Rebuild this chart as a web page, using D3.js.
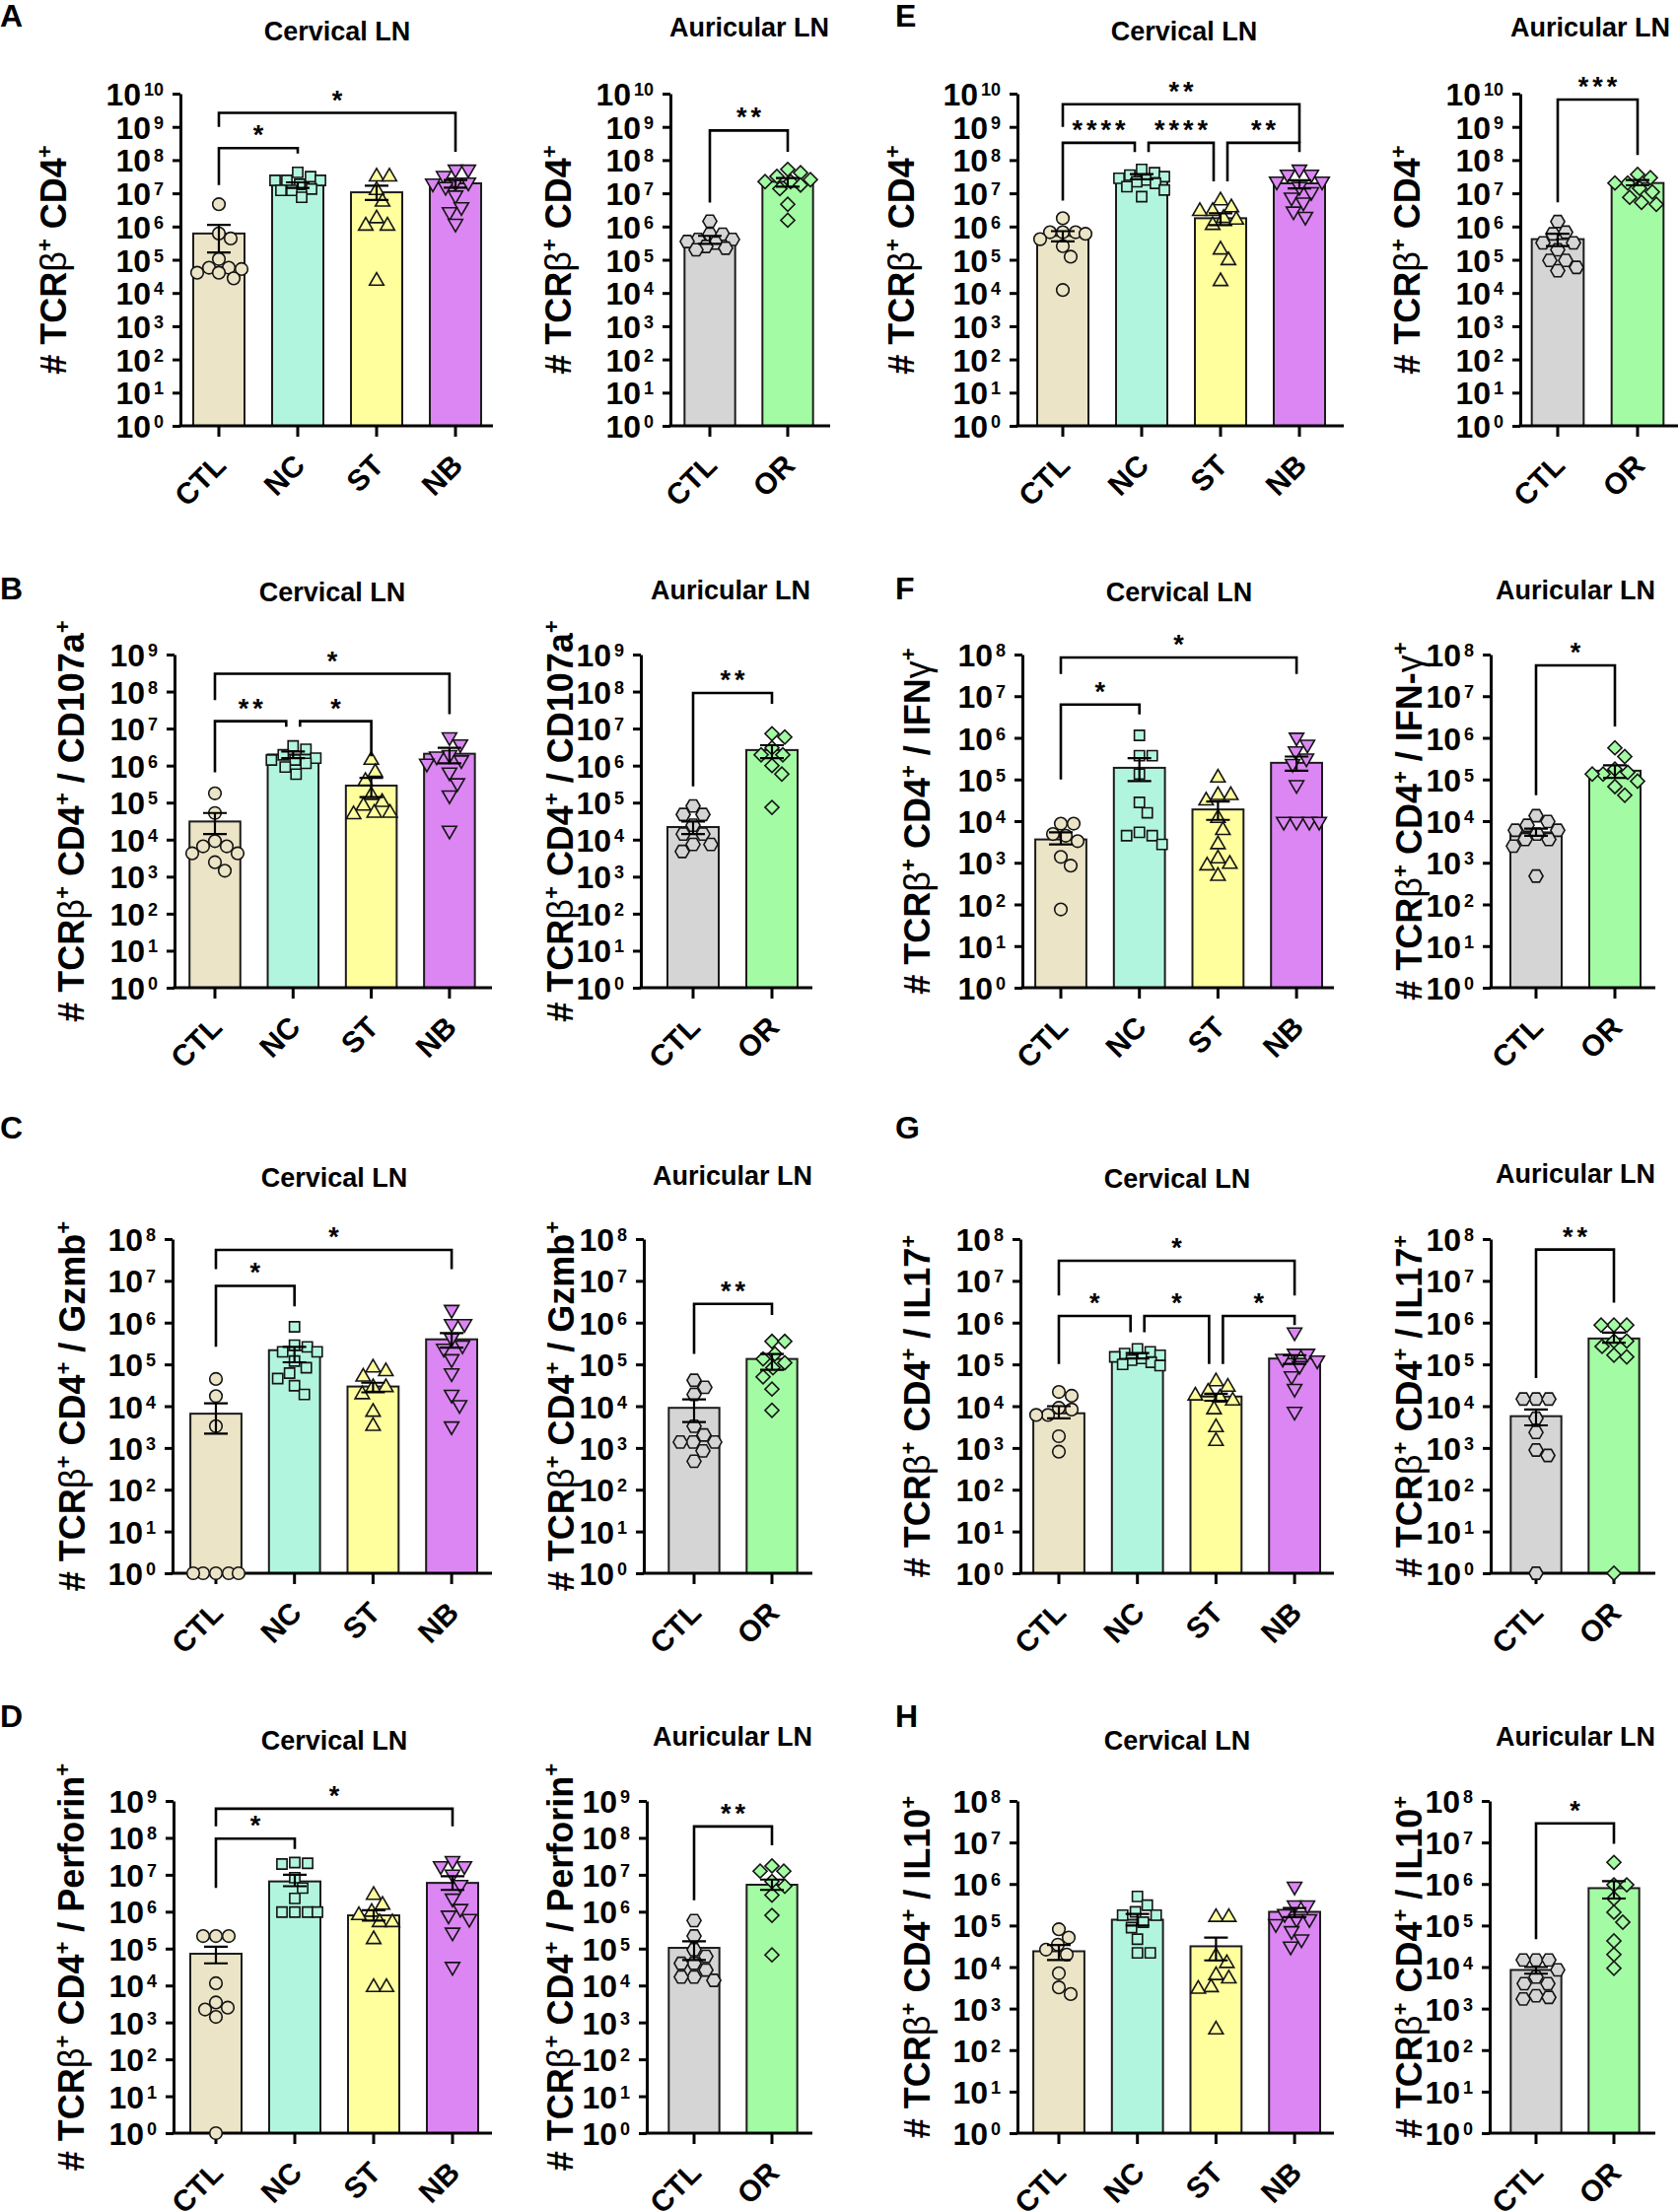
<!DOCTYPE html>
<html>
<head>
<meta charset="utf-8">
<script src="https://cdn.jsdelivr.net/npm/d3@7"></script>
<style>
  body { margin: 0; background: #fff; }
  svg { display: block; }
</style>
</head>
<body>
<svg id="fig" width="1702" height="2244"></svg>
<script>
// groups and tick exponents
const groupsCerv = ["CTL", "NC", "ST", "NB"];
const groupsAur = ["CTL", "OR"];
const ticksE10 = [0, 1, 2, 3, 4, 5, 6, 7, 8, 9, 10];
const ticksE9 = [0, 1, 2, 3, 4, 5, 6, 7, 8, 9];
const ticksE8 = [0, 1, 2, 3, 4, 5, 6, 7, 8];

// all values are log10(cell count)
// points per group, bar mean, error bar [low, high]
// brackets: [groupA, groupB, level, legA end, legB end, label]

// A  TCRb+ CD4+
const A_cerv_pts = [
  [6.67, 5.79, 5.64, 5.02, 4.76, 4.76, 4.72, 4.61, 4.61, 4.44],
  [7.63, 7.5, 7.39, 7.39, 7.39, 7.27, 7.13, 7.09, 7.09, 6.88],
  [7.5, 7.5, 7.09, 6.74, 6.24, 6.02, 6.02, 4.36],
  [7.72, 7.72, 7.53, 7.33, 7.33, 7.3, 7.2, 6.94, 6.59, 6.44, 6.09]
];
const A_cerv_mean = [5.79, 7.25, 7.03, 7.3];
const A_cerv_err = [[5.22, 6.05], [7.16, 7.33], [6.8, 7.23], [7.17, 7.4]];
const A_cerv_br = [[0, 1, 8.36, 7.25, 8.2, "*"], [0, 3, 9.42, 9.0, 8.25, "*"]];

const A_aur_pts = [
  [6.16, 5.77, 5.77, 5.61, 5.61, 5.55, 5.5, 5.4, 5.35, 5.3],
  [7.72, 7.62, 7.51, 7.41, 7.35, 7.35, 7.25, 7.14, 6.67, 6.19]
];
const A_aur_mean = [5.61, 7.35];
const A_aur_err = [[5.48, 5.72], [7.2, 7.46]];
const A_aur_br = [[0, 1, 8.89, 6.72, 8.25, "**"]];

// B  CD107a
const B_cerv_pts = [
  [5.25, 4.72, 3.96, 3.82, 3.82, 3.63, 3.63, 3.39, 3.16],
  [6.53, 6.44, 6.29, 6.2, 6.15, 6.15, 6.06, 5.96, 5.77],
  [6.15, 5.82, 5.58, 5.2, 5.01, 4.91, 4.72, 4.72, 4.68],
  [6.77, 6.58, 6.29, 6.25, 6.15, 6.06, 5.82, 5.53, 5.2, 4.25]
];
const B_cerv_mean = [4.49, 6.3, 5.46, 6.32];
const B_cerv_err = [[4.15, 4.72], [6.2, 6.38], [5.15, 5.67], [6.06, 6.48]];
const B_cerv_br = [[0, 3, 8.48, 7.77, 7.39, "*"], [0, 1, 7.2, 5.82, 7.05, "**"], [1, 2, 7.2, 7.05, 6.25, "*"]];

const B_aur_pts = [
  [4.91, 4.68, 4.68, 4.39, 4.15, 4.15, 3.87, 3.87, 3.68],
  [6.86, 6.77, 6.48, 6.29, 6.29, 6.0, 5.77, 4.87]
];
const B_aur_mean = [4.34, 6.42];
const B_aur_err = [[4.15, 4.49], [6.2, 6.55]];
const B_aur_br = [[0, 1, 7.96, 5.44, 7.67, "**"]];

// C  Gzmb
const C_cerv_pts = [
  [4.65, 4.24, 3.52, 0, 0, 0, 0, 0],
  [5.9, 5.46, 5.42, 5.3, 5.3, 5.08, 4.92, 4.79, 4.66, 4.49, 4.28],
  [4.92, 4.83, 4.7, 4.45, 4.45, 4.28, 3.86, 3.52],
  [6.31, 5.97, 5.97, 5.63, 5.46, 5.38, 5.13, 4.79, 4.28, 4.03, 3.52]
];
const C_cerv_mean = [3.82, 5.34, 4.47, 5.6];
const C_cerv_err = [[3.34, 4.07], [5.05, 5.42], [4.33, 4.56], [5.4, 5.75]];
const C_cerv_br = [[0, 3, 7.74, 7.28, 7.28, "*"], [0, 1, 6.88, 5.42, 6.39, "*"]];

const C_aur_pts = [
  [4.62, 4.45, 4.28, 3.52, 3.31, 3.14, 3.14, 3.14, 2.93, 2.68],
  [5.55, 5.55, 5.25, 5.13, 5.04, 4.92, 4.7, 4.41, 3.9]
];
const C_aur_mean = [3.96, 5.13];
const C_aur_err = [[3.62, 4.16], [4.87, 5.25]];
const C_aur_br = [[0, 1, 6.45, 5.25, 6.18, "**"]];

// D  Perforin
const D_cerv_pts = [
  [5.34, 5.34, 5.34, 4.06, 3.54, 3.4, 3.35, 3.15, 0],
  [7.33, 7.31, 7.29, 6.92, 6.64, 6.36, 5.99, 5.99, 5.99, 5.99],
  [6.45, 6.18, 5.99, 5.9, 5.71, 5.71, 5.25, 3.95, 3.95],
  [7.38, 7.24, 7.24, 7.01, 6.73, 6.36, 6.08, 5.9, 5.81, 5.44, 4.51]
];
const D_cerv_mean = [4.86, 6.82, 5.9, 6.78];
const D_cerv_err = [[4.6, 5.05], [6.69, 7.0], [5.76, 6.04], [6.59, 6.96]];
const D_cerv_br = [[0, 3, 8.79, 8.31, 8.31, "*"], [0, 1, 7.98, 6.64, 7.7, "*"]];

const D_aur_pts = [
  [5.76, 5.34, 4.97, 4.79, 4.6, 4.6, 4.42, 4.23, 4.23, 4.14],
  [7.24, 7.1, 7.1, 6.82, 6.69, 6.45, 5.9, 4.83]
];
const D_aur_mean = [5.02, 6.73];
const D_aur_err = [[4.69, 5.2], [6.59, 6.87]];
const D_aur_br = [[0, 1, 8.31, 6.31, 7.8, "**"]];

// E  TCRb+ CD4+
const E_cerv_pts = [
  [6.25, 5.83, 5.83, 5.83, 5.78, 5.62, 5.41, 5.09, 4.09],
  [7.72, 7.62, 7.55, 7.5, 7.45, 7.4, 7.35, 7.3, 7.2, 7.1, 6.9],
  [6.78, 6.57, 6.46, 6.46, 6.25, 6.2, 6.04, 5.3, 4.98, 4.35],
  [7.72, 7.57, 7.57, 7.36, 7.36, 7.2, 7.04, 6.88, 6.73, 6.46, 6.3]
];
const E_cerv_mean = [5.72, 7.5, 6.25, 7.3];
const E_cerv_err = [[5.55, 5.86], [7.42, 7.58], [6.04, 6.4], [7.15, 7.39]];
const E_cerv_br = [
  [0, 3, 9.68, 9.0, 8.52, "**"],
  [0, 1, 8.52, 6.78, 8.24, "****"],
  [1, 2, 8.52, 8.24, 7.36, "****"],
  [2, 3, 8.52, 7.36, 8.24, "**"]
];

const E_aur_pts = [
  [6.15, 5.83, 5.78, 5.51, 5.51, 5.3, 4.98, 4.98, 4.77, 4.67],
  [7.57, 7.47, 7.31, 7.31, 7.15, 7.04, 6.88, 6.73, 6.67]
];
const E_aur_mean = [5.62, 7.31];
const E_aur_err = [[5.41, 5.78], [7.24, 7.4]];
const E_aur_br = [[0, 1, 9.82, 6.73, 8.15, "***"]];

// F  IFN-gamma
const F_cerv_pts = [
  [3.94, 3.94, 3.69, 3.65, 3.52, 3.14, 2.93, 1.88],
  [6.06, 5.57, 5.57, 5.13, 4.45, 4.2, 3.73, 3.65, 3.65, 3.44],
  [5.04, 4.62, 4.62, 4.49, 4.07, 3.78, 3.44, 3.1, 2.97, 2.93, 2.68],
  [6.01, 5.84, 5.68, 5.51, 5.38, 4.87, 3.99, 3.99, 3.99, 3.99]
];
const F_cerv_mean = [3.56, 5.28, 4.28, 5.4];
const F_cerv_err = [[3.44, 3.73], [4.96, 5.51], [4.03, 4.47], [5.21, 5.55]];
const F_cerv_br = [[0, 3, 7.93, 7.53, 7.53, "*"], [0, 1, 6.8, 5.0, 6.56, "*"]];

const F_aur_pts = [
  [4.13, 3.99, 3.9, 3.78, 3.78, 3.69, 3.56, 3.56, 3.4, 2.68],
  [5.76, 5.55, 5.25, 5.17, 5.13, 5.13, 4.96, 4.83, 4.62]
];
const F_aur_mean = [3.73, 5.21];
const F_aur_err = [[3.65, 3.82], [5.04, 5.34]];
const F_aur_br = [[0, 1, 7.74, 4.62, 6.27, "*"]];

// G  IL17
const G_cerv_pts = [
  [4.34, 4.25, 3.96, 3.92, 3.79, 3.79, 3.28, 2.91],
  [5.37, 5.3, 5.26, 5.22, 5.18, 5.14, 5.1, 5.05, 5.0, 4.97],
  [4.59, 4.46, 4.34, 4.25, 4.2, 4.13, 3.92, 3.49, 3.16],
  [5.77, 5.26, 5.26, 5.14, 5.1, 4.97, 4.72, 4.42, 3.87]
];
const G_cerv_mean = [3.83, 5.22, 4.23, 5.14];
const G_cerv_err = [[3.71, 4.0], [5.14, 5.27], [4.13, 4.3], [5.01, 5.22]];
const G_cerv_br = [
  [0, 3, 7.48, 6.65, 6.65, "*"],
  [0, 1, 6.16, 5.01, 5.77, "*"],
  [1, 2, 6.16, 5.77, 5.01, "*"],
  [2, 3, 6.16, 5.01, 5.94, "*"]
];

const G_aur_pts = [
  [4.17, 4.17, 4.17, 3.71, 3.37, 2.95, 2.82, 0],
  [5.94, 5.94, 5.94, 5.56, 5.56, 5.43, 5.22, 5.18, 0]
];
const G_aur_mean = [3.76, 5.62];
const G_aur_err = [[3.54, 3.92], [5.52, 5.76]];
const G_aur_br = [[0, 1, 7.75, 4.67, 6.48, "**"]];

// H  IL10
const H_cerv_pts = [
  [4.91, 4.71, 4.54, 4.42, 4.3, 3.85, 3.51, 3.35],
  [5.7, 5.49, 5.33, 5.25, 5.25, 5.08, 4.95, 4.67, 4.34, 4.34],
  [5.2, 5.2, 4.26, 4.09, 3.8, 3.72, 3.51, 3.47, 2.49],
  [5.94, 5.49, 5.49, 5.28, 5.16, 5.16, 5.04, 4.87, 4.67, 4.5]
];
const H_cerv_mean = [4.38, 5.14, 4.5, 5.33];
const H_cerv_err = [[4.17, 4.53], [5.0, 5.28], [4.16, 4.71], [5.2, 5.42]];
const H_cerv_br = [];

const H_aur_pts = [
  [4.17, 4.17, 4.17, 3.93, 3.76, 3.6, 3.6, 3.31, 3.27, 3.23],
  [6.52, 5.98, 5.98, 5.65, 5.32, 5.08, 4.63, 4.3, 3.97]
];
const H_aur_mean = [3.93, 5.9];
const H_aur_err = [[3.84, 4.0], [5.65, 6.07]];
const H_aur_br = [[0, 1, 7.46, 4.67, 6.97, "*"]];

// ---------------------------------------------------------------
const FONT = '"Liberation Sans", Arial, Helvetica, sans-serif';
const colorsCerv = ["#ebe4c6", "#b2f5df", "#ffff9e", "#db86f3"];
const colorsAur = ["#d5d5d5", "#a3fba3"];

// flat-topped hexagon for the auricular CTL group
const symbolHex = {
  draw(ctx, size) {
    const r = Math.sqrt(size / (1.5 * Math.sqrt(3)));
    for (let i = 0; i < 6; i++) {
      const a = Math.PI / 3 * i;
      if (i) ctx.lineTo(r * Math.cos(a), r * Math.sin(a));
      else ctx.moveTo(r * Math.cos(a), r * Math.sin(a));
    }
    ctx.closePath();
  }
};
const markersCerv = [
  { type: d3.symbolCircle, size: 125, rot: 0 },
  { type: d3.symbolSquare, size: 105, rot: 0 },
  { type: d3.symbolTriangle, size: 92, rot: 0 },
  { type: d3.symbolTriangle, size: 92, rot: 180 }
];
const markersAur = [
  { type: symbolHex, size: 130, rot: 0 },
  { type: d3.symbolSquare, size: 100, rot: 45 }
];

const svg = d3.select("#fig");
svg.append("rect").attr("width", 1702).attr("height", 2244).attr("fill", "#fff");

const val = e => Math.pow(10, e);

// beeswarm kept inside the bar: spread sideways up to maxOff,
// fall back to the least crowded spot when the bar is full
function swarm(vals, y, cx, d, maxOff) {
  const pts = vals.map(v => ({ v, y: y(val(v)) })).sort((a, b) => a.y - b.y);
  const placed = [];
  pts.forEach(p => {
    let best = cx, bestScore = -Infinity;
    for (let k = 0; k <= 2 * maxOff; k++) {
      const off = (k % 2 ? 1 : -1) * Math.ceil(k / 2);
      const x = cx + off;
      const md = placed.length ? d3.min(placed, q => Math.hypot(q.x - x, q.y - p.y)) : Infinity;
      if (md >= d) { best = x; break; }
      if (md > bestScore + 0.5) { bestScore = md; best = x; }
    }
    p.x = best;
    placed.push(p);
  });
  return placed;
}

function yLabel(g, x, y, tail) {
  const t = g.append("text")
    .attr("transform", `translate(${x},${y}) rotate(-90)`)
    .attr("text-anchor", "middle")
    .attr("font-family", FONT)
    .attr("font-size", 36)
    .attr("font-weight", "bold")
    .attr("fill", "#000");
  let back = 0;
  const seg = (s, greek) => {
    const ts = t.append("tspan").text(s);
    if (greek) ts.attr("font-weight", "normal");
    if (back) { ts.attr("dy", back); back = 0; }
  };
  const sup = s => {
    t.append("tspan").attr("dy", -14 + back).attr("font-size", 22).text(s);
    back = 14;
  };
  seg("# TCR"); seg("β", true); sup("+");
  seg(" CD4"); sup("+");
  if (tail) {
    tail.split(/([βγ])/).filter(s => s.length).forEach(s => seg(s, /[βγ]/.test(s)));
    sup("+");
  }
}

function drawPanel(p) {
  const g = svg.append("g");
  const top = p.ticks[p.ticks.length - 1];
  const y = d3.scaleLog().domain([1, val(top)]).range([p.yBot, p.yTop]);
  const n = p.groups.length;
  const x = d3.scaleBand().domain(p.groups)
    .range([p.c0 - p.step / 2, p.c0 - p.step / 2 + n * p.step])
    .paddingInner(0.35).paddingOuter(0.175);
  const cx = name => x(name) + x.bandwidth() / 2;

  // bars
  g.selectAll("rect.bar").data(p.groups).join("rect")
    .attr("class", "bar")
    .attr("x", d => x(d))
    .attr("width", x.bandwidth())
    .attr("y", (d, i) => y(val(p.mean[i])))
    .attr("height", (d, i) => p.yBot - y(val(p.mean[i])))
    .attr("fill", (d, i) => p.colors[i])
    .attr("stroke", "#1c1c1c")
    .attr("stroke-width", 2);

  // y axis
  const ay = g.append("g")
    .attr("transform", `translate(${p.axisX},0)`)
    .call(d3.axisLeft(y).tickValues(p.ticks.map(val)).tickSize(8).tickSizeOuter(0));
  ay.select(".domain").attr("stroke-width", 3);
  ay.selectAll(".tick line").attr("stroke-width", 3);
  ay.selectAll(".tick text")
    .attr("x", -17).attr("dy", null).attr("y", 11.5)
    .attr("font-family", FONT).attr("font-size", 32).attr("font-weight", "bold")
    .attr("fill", "#000")
    .text(null)
    .each(function (d, i) {
      const t = d3.select(this);
      t.append("tspan").text("10");
      t.append("tspan").attr("dx", 3).attr("dy", -10).attr("font-size", 18).text(p.ticks[i]);
    });

  // x axis
  const ax = g.append("g")
    .attr("transform", `translate(0,${p.yBot})`)
    .call(d3.axisBottom(x).tickSize(11).tickSizeOuter(0));
  ax.select(".domain").remove();
  ax.append("line")
    .attr("x1", p.axisX - 1.5).attr("x2", p.axisEnd)
    .attr("stroke", "#000").attr("stroke-width", 3);
  ax.selectAll(".tick line").attr("stroke-width", 3);
  ax.selectAll(".tick text")
    .attr("y", 0).attr("dy", 0)
    .attr("transform", "translate(9,42) rotate(-45)")
    .attr("text-anchor", "end")
    .attr("font-family", FONT).attr("font-size", 30).attr("font-weight", "bold")
    .attr("fill", "#000");

  // scatter points
  p.pts.forEach((vals, i) => {
    const m = p.markers[i];
    const placed = swarm(vals, y, cx(p.groups[i]), 13, 23);
    g.selectAll(null).data(placed).join("path")
      .attr("d", d3.symbol(m.type, m.size))
      .attr("transform", d => `translate(${d.x},${d.y}) rotate(${m.rot})`)
      .attr("fill", p.colors[i])
      .attr("stroke", "#141414")
      .attr("stroke-width", 1.6);
  });

  // error bars (SEM)
  p.err.forEach((e, i) => {
    const c = cx(p.groups[i]);
    const y0 = y(val(e[0])), y1 = y(val(e[1]));
    g.append("path")
      .attr("d", `M${c},${y0}V${y1}M${c - 12},${y0}H${c + 12}M${c - 12},${y1}H${c + 12}`)
      .attr("stroke", "#000").attr("stroke-width", 2.2).attr("fill", "none");
  });

  // significance brackets
  p.br.forEach(b => {
    const [a, c, lev, la, lc, label] = b;
    let xa = cx(p.groups[a]), xc = cx(p.groups[c]);
    const same = p.br.filter(o => o !== b && Math.abs(o[2] - lev) < 0.05);
    if (same.some(o => o[1] === a)) xa += 7;
    if (same.some(o => o[0] === c)) xc -= 7;
    const yl = y(val(lev));
    g.append("path")
      .attr("d", `M${xa},${y(val(la))}V${yl}H${xc}V${y(val(lc))}`)
      .attr("stroke", "#000").attr("stroke-width", 2.6).attr("fill", "none");
    g.append("text")
      .attr("x", (xa + xc) / 2 + 2).attr("y", yl - 4)
      .attr("text-anchor", "middle")
      .attr("letter-spacing", 4)
      .attr("font-family", FONT).attr("font-size", 27).attr("font-weight", "bold")
      .text(label);
  });

  // title and y label
  g.append("text")
    .attr("x", p.titleX).attr("y", p.titleY)
    .attr("text-anchor", "middle")
    .attr("font-family", FONT).attr("font-size", 27).attr("font-weight", "bold")
    .text(p.title);
  yLabel(g, p.labelX + 13, (p.yTop + p.yBot) / 2, p.tail);
}

function cerv(pts, mean, err, br) {
  return { pts, mean, err, br, groups: groupsCerv, colors: colorsCerv, markers: markersCerv, title: "Cervical LN" };
}
function aur(pts, mean, err, br) {
  return { pts, mean, err, br, groups: groupsAur, colors: colorsAur, markers: markersAur, title: "Auricular LN" };
}

const panels = [
  // row 1
  Object.assign(cerv(A_cerv_pts, A_cerv_mean, A_cerv_err, A_cerv_br),
    { ticks: ticksE10, yTop: 95, yBot: 432, axisX: 183, axisEnd: 500, c0: 222, step: 80, labelX: 54, titleX: 342, titleY: 41, tail: "" }),
  Object.assign(aur(A_aur_pts, A_aur_mean, A_aur_err, A_aur_br),
    { ticks: ticksE10, yTop: 95, yBot: 432, axisX: 680, axisEnd: 842, c0: 720, step: 79, labelX: 566, titleX: 760, titleY: 37, tail: "" }),
  Object.assign(cerv(E_cerv_pts, E_cerv_mean, E_cerv_err, E_cerv_br),
    { ticks: ticksE10, yTop: 95, yBot: 432, axisX: 1032, axisEnd: 1363, c0: 1078, step: 80, labelX: 914, titleX: 1201, titleY: 41, tail: "" }),
  Object.assign(aur(E_aur_pts, E_aur_mean, E_aur_err, E_aur_br),
    { ticks: ticksE10, yTop: 95, yBot: 432, axisX: 1542, axisEnd: 1702, c0: 1580, step: 81, labelX: 1427, titleX: 1613, titleY: 37, tail: "" }),
  // row 2
  Object.assign(cerv(B_cerv_pts, B_cerv_mean, B_cerv_err, B_cerv_br),
    { ticks: ticksE9, yTop: 664, yBot: 1002, axisX: 177, axisEnd: 499, c0: 218, step: 79.3, labelX: 72, titleX: 337, titleY: 610, tail: " / CD107a" }),
  Object.assign(aur(B_aur_pts, B_aur_mean, B_aur_err, B_aur_br),
    { ticks: ticksE9, yTop: 664, yBot: 1002, axisX: 650, axisEnd: 824, c0: 703, step: 80, labelX: 568, titleX: 741, titleY: 608, tail: " / CD107a" }),
  Object.assign(cerv(F_cerv_pts, F_cerv_mean, F_cerv_err, F_cerv_br),
    { ticks: ticksE8, yTop: 664, yBot: 1002, axisX: 1037, axisEnd: 1353, c0: 1076, step: 79.7, labelX: 930, titleX: 1196, titleY: 610, tail: " / IFNγ" }),
  Object.assign(aur(F_aur_pts, F_aur_mean, F_aur_err, F_aur_br),
    { ticks: ticksE8, yTop: 664, yBot: 1002, axisX: 1512, axisEnd: 1679, c0: 1558, step: 80, labelX: 1429, titleX: 1598, titleY: 608, tail: " / IFN-γ" }),
  // row 3
  Object.assign(cerv(C_cerv_pts, C_cerv_mean, C_cerv_err, C_cerv_br),
    { ticks: ticksE8, yTop: 1257, yBot: 1596, axisX: 175, axisEnd: 499, c0: 219, step: 79.7, labelX: 73, titleX: 339, titleY: 1204, tail: " / Gzmb" }),
  Object.assign(aur(C_aur_pts, C_aur_mean, C_aur_err, C_aur_br),
    { ticks: ticksE8, yTop: 1257, yBot: 1596, axisX: 653, axisEnd: 824, c0: 704, step: 79, labelX: 569, titleX: 743, titleY: 1202, tail: " / Gzmb" }),
  Object.assign(cerv(G_cerv_pts, G_cerv_mean, G_cerv_err, G_cerv_br),
    { ticks: ticksE8, yTop: 1257, yBot: 1596, axisX: 1035, axisEnd: 1353, c0: 1074, step: 79.7, labelX: 930, titleX: 1194, titleY: 1205, tail: " / IL17" }),
  Object.assign(aur(G_aur_pts, G_aur_mean, G_aur_err, G_aur_br),
    { ticks: ticksE8, yTop: 1257, yBot: 1596, axisX: 1512, axisEnd: 1679, c0: 1558, step: 79, labelX: 1429, titleX: 1598, titleY: 1200, tail: " / IL17" }),
  // row 4
  Object.assign(cerv(D_cerv_pts, D_cerv_mean, D_cerv_err, D_cerv_br),
    { ticks: ticksE9, yTop: 1827, yBot: 2164, axisX: 176, axisEnd: 499, c0: 219, step: 80, labelX: 72, titleX: 339, titleY: 1775, tail: " / Perforin" }),
  Object.assign(aur(D_aur_pts, D_aur_mean, D_aur_err, D_aur_br),
    { ticks: ticksE9, yTop: 1827, yBot: 2164, axisX: 656, axisEnd: 824, c0: 704, step: 79, labelX: 568, titleX: 743, titleY: 1771, tail: " / Perforin" }),
  Object.assign(cerv(H_cerv_pts, H_cerv_mean, H_cerv_err, H_cerv_br),
    { ticks: ticksE8, yTop: 1827, yBot: 2164, axisX: 1032, axisEnd: 1353, c0: 1074, step: 79.7, labelX: 930, titleX: 1194, titleY: 1775, tail: " / IL10" }),
  Object.assign(aur(H_aur_pts, H_aur_mean, H_aur_err, H_aur_br),
    { ticks: ticksE8, yTop: 1827, yBot: 2164, axisX: 1511, axisEnd: 1679, c0: 1558, step: 79, labelX: 1429, titleX: 1598, titleY: 1771, tail: " / IL10" })
];

panels.forEach(drawPanel);

// panel letters
const letters = [
  ["A", 0, 27], ["E", 908, 27], ["B", 0, 608], ["F", 908, 608],
  ["C", 0, 1155], ["G", 908, 1155], ["D", 0, 1752], ["H", 908, 1752]
];
svg.selectAll("text.letter").data(letters).join("text")
  .attr("class", "letter")
  .attr("x", d => d[1]).attr("y", d => d[2])
  .attr("font-family", FONT).attr("font-size", 32).attr("font-weight", "bold")
  .text(d => d[0]);
</script>
</body>
</html>
